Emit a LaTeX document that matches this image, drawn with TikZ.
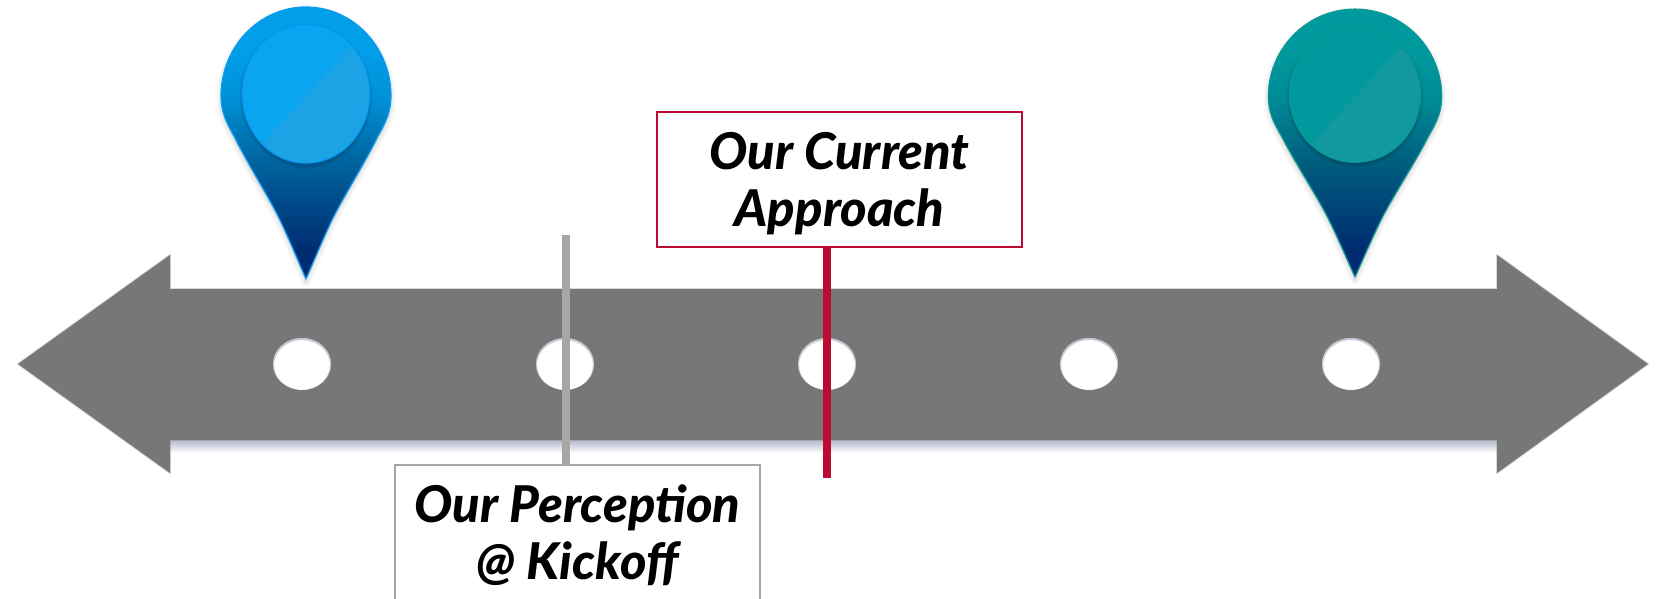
\documentclass[tikz,border=0pt]{standalone}
\usepackage{fontspec}
\setmainfont{Lato}[BoldItalicFont={Lato Black Italic}]
\usetikzlibrary{shapes.geometric}
\definecolor{arrowgray}{HTML}{777777}
\definecolor{redline}{HTML}{BC0A32}
\definecolor{grayline}{HTML}{A6A6A6}
\definecolor{shadowtint}{HTML}{8C93AC}
\definecolor{bA}{HTML}{002B70}\definecolor{bB}{HTML}{00659F}\definecolor{bC}{HTML}{0090D8}\definecolor{bD}{HTML}{009FE8}
\definecolor{tA}{HTML}{002B70}\definecolor{tB}{HTML}{00607F}\definecolor{tC}{HTML}{008A96}\definecolor{tD}{HTML}{009A9E}
\definecolor{bEdge}{HTML}{0A9BF5}\definecolor{bInner}{HTML}{0AA5F0}\definecolor{bLight}{HTML}{1BA3E6}
\definecolor{tEdge}{HTML}{0A9A94}\definecolor{tInner}{HTML}{009A9E}\definecolor{tLight}{HTML}{1298A1}
\pgfdeclareverticalshading{bluepin}{100bp}{color(0bp)=(bA);color(30bp)=(bA);color(47bp)=(bB);color(58bp)=(bC);color(67bp)=(bD);color(100bp)=(bD)}
\pgfdeclareverticalshading{tealpin}{100bp}{color(0bp)=(tA);color(30bp)=(tA);color(47bp)=(tB);color(58bp)=(tC);color(67bp)=(tD);color(100bp)=(tD)}
\newcommand{\arrowoutline}{(18,364) -- (170,255) -- (170,289) -- (1497,289) -- (1497,255) -- (1648,364) -- (1497,473) -- (1497,440) -- (170,440) -- (170,473) -- cycle}
\newcommand{\pinoutline}{(0,0) .. controls (-7,-16) and (-16,-38) .. (-26,-59) .. controls (-36,-80) and (-60,-118) .. (-72,-143) .. controls (-80,-157) and (-85,-168) .. (-85,-183) .. controls (-85,-232) and (-47,-272) .. (0,-272) .. controls (47,-272) and (85,-232) .. (85,-183) .. controls (85,-168) and (80,-157) .. (72,-143) .. controls (60,-118) and (36,-80) .. (26,-59) .. controls (16,-38) and (7,-16) .. (0,0) -- cycle}
% #1 tip, #2 xscale, #3 yscale, #4 shading, #5 edge, #6 inner, #7 lighter, #8 x radius, #9 y radius
\newcommand{\mappin}[9]{%
\begin{scope}[shift={#1},xscale=#2,yscale=#3]
  \foreach \w in {7,5,3,1}{\fill[gray,opacity=.05,draw=gray,line width=\w pt,line join=round,shift={(0,3)}] \pinoutline;}
  \shade[shading=#4,draw=#5,line width=.9pt,line join=round] \pinoutline;
  \foreach \w in {7,5,3,1}{\fill[black,opacity=.035] (0,-183) ellipse[x radius=#8+\w/2,y radius=#9+\w/2];}
  \fill[#6] (0,-185) ellipse[x radius=#8,y radius=#9];
  \begin{scope}
    \clip (0,-185) ellipse[x radius=#8,y radius=#9];
    \fill[#7] (-83,-92) -- (127,-322) -- (127,-92) -- cycle;
  \end{scope}
  \draw[#5,line width=.9pt] (0,-185) ellipse[x radius=#8,y radius=#9];
\end{scope}}
\begin{document}
\begin{tikzpicture}[x=0.75pt,y=-0.75pt,
  labelbox/.style={draw,fill=white,line width=1.4pt,minimum width=274pt,inner sep=0pt},
  labeltext/.style={align=center,inner sep=0pt,font=\fontsize{38}{42.75}\selectfont\bfseries\itshape},
  hole/.style={ellipse,fill=white,minimum width=43.5pt,minimum height=39pt,inner sep=0pt},
  marker/.style={line width=6pt}]
\useasboundingbox (0,0) rectangle (1658,599);
\clip (0,0) rectangle (1658,599);
% arrow
\shade[top color=shadowtint!75,bottom color=white] (170,438) rectangle (1497,453);
\draw[shadowtint,opacity=.35,line width=1.5pt,line join=round] \arrowoutline;
\fill[arrowgray] \arrowoutline;
% holes
\foreach \n/\x in {a/302,b/565,c/827,d/1089,e/1351}{
  \node[hole] (\n) at (\x,364) {};
  \begin{scope}
    \clip (\x,364) ellipse[x radius=29,y radius=26];
    \draw[shadowtint,opacity=.5,line width=1.5pt] (\x,365) ellipse[x radius=29,y radius=26];
  \end{scope}
}
% pins
\mappin{(306,279)}{1}{1}{bluepin}{bEdge}{bInner}{bLight}{63.5}{69}
\mappin{(1355,277)}{1.02}{.985}{tealpin}{tEdge}{tInner}{tLight}{64}{68.5}
% labels
\node[labelbox,draw=redline,minimum height=101pt] (current) at (839.5,179.5) {};
\node[labeltext] (currentText) at (839.5,184) {Our Current\\Approach};
\node[labelbox,draw=grayline,minimum height=103pt] (perception) at (577.5,534) {};
\node[labeltext] (perceptionText) at (577.5,535.5) {Our Perception\\@ Kickoff};
% markers
\coordinate (grayTop) at (565.5,235);
\coordinate (redEnd) at (827,478);
\draw[marker,grayline] (grayTop) -- (grayTop |- perception.north);
\draw[marker,redline] (redEnd |- current.south) -- (redEnd);
\end{tikzpicture}
\end{document}
